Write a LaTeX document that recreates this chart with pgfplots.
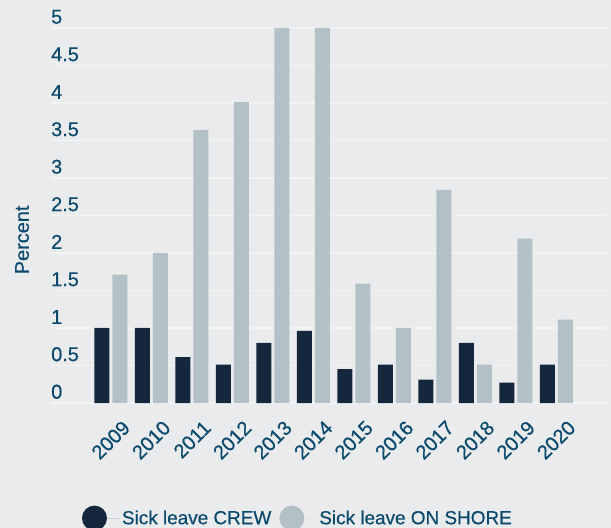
\documentclass[border=0pt]{standalone}
\usepackage{fontspec}
\setmainfont{Liberation Sans}[FakeBold=0.5]
\usepackage{pgfplots}
\pgfplotsset{compat=1.18}
\definecolor{bg}{HTML}{E9EBED}
\definecolor{gridc}{HTML}{F2F3F4}
\definecolor{crew}{HTML}{15273D}
\definecolor{shore}{HTML}{B3C0C6}
\definecolor{txt}{HTML}{0B4A6C}
\begin{document}
\begin{tikzpicture}
\useasboundingbox (0,0) rectangle (611bp,528bp);
\fill[bg] (0,0) rectangle (611bp,528bp);
\clip (0,0) rectangle (611bp,528bp);
\begin{axis}[
  at={(51bp,125bp)}, anchor=south west,
  scale only axis, width=556bp, height=375bp,
  xmin=-1.48, xmax=12.25, ymin=0, ymax=5,
  axis line style={draw=none}, tick style={draw=none}, major tick length=0pt,
  ybar=3bp, bar width=15bp,
  xtick={0,1,2,3,4,5,6,7,8,9,10,11},
  xticklabels={2009,2010,2011,2012,2013,2014,2015,2016,2017,2018,2019,2020},
  ytick={0,0.5,1,1.5,2,2.5,3,3.5,4,4.5,5},
  ymajorgrids, grid style={gridc, line width=1.5bp},
  /pgf/number format/assume math mode=true,
  every tick label/.append style={text=txt, font=\fontsize{20}{24}\selectfont},
  yticklabel style={anchor=south west, inner sep=0pt, yshift=4bp},
  xticklabel style={rotate=45, anchor=east, inner sep=0pt, xshift=-4bp, yshift=-26bp},
  ylabel={Percent},
  ylabel style={at={(axis description cs:-0.052,0.435)}, anchor=center, text=txt, font=\fontsize{20}{24}\selectfont},
  legend columns=2,
  legend style={at={(axis description cs:0.05,-0.307)}, anchor=west, draw=none, fill=none,
    font=\fontsize{19}{22}\selectfont, text=txt,
    /tikz/every even column/.append style={column sep=6bp}},
  legend cell align=left,
  clip=false,
]
\addplot[fill=crew, draw=none, legend image code/.code={\fill[crew] (12.5bp,0bp) circle (12.5bp); \path (0bp,0bp) -- (38bp,0bp);}] coordinates {
(0,1.00) (1,1.00) (2,0.61) (3,0.51) (4,0.80) (5,0.96) (6,0.45) (7,0.51) (8,0.31) (9,0.80) (10,0.27) (11,0.51)};
\addlegendentry{Sick leave CREW}
\addplot[fill=shore, draw=none, legend image code/.code={\fill[shore] (12.5bp,0bp) circle (12.5bp); \path (0bp,0bp) -- (38bp,0bp);}] coordinates {
(0,1.71) (1,2.00) (2,3.64) (3,4.01) (4,5.00) (5,5.00) (6,1.59) (7,1.00) (8,2.84) (9,0.51) (10,2.19) (11,1.11)};
\addlegendentry{Sick leave ON SHORE}
\end{axis}
\end{tikzpicture}
\end{document}
